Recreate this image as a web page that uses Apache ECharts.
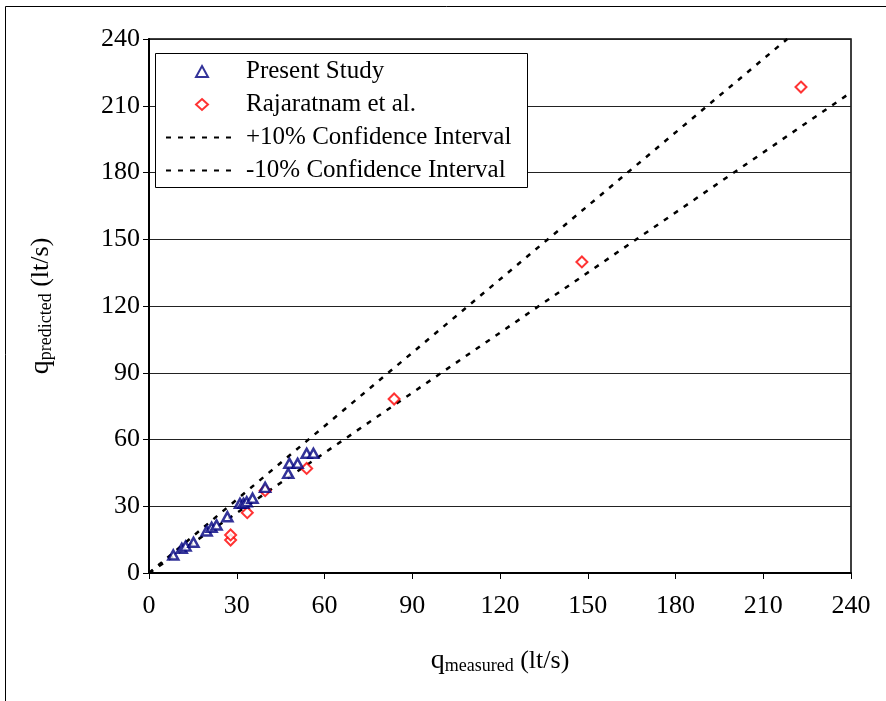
<!DOCTYPE html>
<html>
<head>
<meta charset="utf-8">
<script src="https://cdn.jsdelivr.net/npm/echarts@6/dist/echarts.min.js"></script>
<style>
  html, body { margin: 0; padding: 0; background: #fff; }
  #chart { width: 886px; height: 701px; }
</style>
</head>
<body>
<div id="chart"></div>
<script>
// measured vs predicted discharge (lt/s)
const presentMeasured  = [8.3, 11.2, 12.5, 15.2, 19.7, 21.4, 23.1, 26.8, 31.1, 32.3, 33.4, 35.4, 39.7, 47.6, 48.0, 50.8, 53.9, 56.2]
const presentPredicted = [8.1, 11.1, 12.1, 13.8, 18.9, 20.5, 21.6, 25.3, 31.3, 31.3, 32.0, 33.6, 38.5, 44.8, 49.3, 49.3, 53.8, 53.8]
const rajMeasured  = [27.9, 27.9, 33.6, 39.7, 53.9, 83.8, 148.0, 222.9]
const rajPredicted = [14.8, 17.1, 27.1, 37.0, 47.0, 78.2, 139.8, 218.4]
// +/-10% bands
const upperX = [0, 218.2]
const upperY = [0, 240]
const lowerX = [0, 240]
const lowerY = [0, 216]
const ticks = [0, 30, 60, 90, 120, 150, 180, 210, 240]

function pairs(xs, ys) {
  return xs.map((x, i) => [x, ys[i]])
}

const serif = 'Liberation Serif, Times New Roman, serif'
let myChart = echarts.init(document.getElementById('chart'))

let axisCommon = {
  type: 'value',
  min: ticks[0],
  max: ticks[ticks.length - 1],
  interval: 30,
  axisLine: { show: true, onZero: false, lineStyle: { color: '#000', width: 2 } },
  axisTick: { show: true, inside: false, length: 6, lineStyle: { color: '#000' } },
  axisLabel: { color: '#000', fontSize: 26, fontFamily: serif },
  nameLocation: 'middle',
  nameTextStyle: {
    color: '#000', fontFamily: serif,
    rich: {
      q: { fontSize: 28, fontFamily: serif, color: '#000' },
      sub: { fontSize: 18, fontFamily: serif, color: '#000', padding: [10, 0, 0, 0] },
      u: { fontSize: 26, fontFamily: serif, color: '#000' }
    }
  }
}

let legendText = { color: '#000', fontSize: 25, fontFamily: serif, lineHeight: 25 }

let option = {
  animation: false,
  backgroundColor: '#fff',
  grid: {
    left: 149, right: 35, top: 39, bottom: 128,
    show: true, borderColor: '#000', borderWidth: 1.5
  },
  graphic: [
    {
      type: 'rect', z: 0, silent: true,
      shape: { x: 5.5, y: 6.5, width: 900, height: 800 },
      style: { fill: null, stroke: '#000', lineWidth: 1 }
    },
    {
      type: 'rect', z: 5, silent: true,
      shape: { x: 155.5, y: 53.5, width: 372, height: 134 },
      style: { fill: '#fff', stroke: '#000', lineWidth: 1 }
    }
  ],
  legend: [
    {
      z: 10,
      orient: 'vertical',
      left: 195,
      top: 59,
      padding: 0,
      itemGap: 8,
      itemWidth: 12,
      itemHeight: 11,
      textStyle: Object.assign({}, legendText, { padding: [0, 0, 0, 33] }),
      data: ['Present Study', 'Rajaratnam et al.']
    },
    {
      z: 10,
      orient: 'vertical',
      left: 165,
      top: 125,
      padding: 0,
      itemGap: 8,
      itemWidth: 67,
      itemHeight: 11,
      textStyle: Object.assign({}, legendText, { padding: [0, 0, 0, 8] }),
      data: [
        { name: '+10% Confidence Interval', itemStyle: { opacity: 0 } },
        { name: '-10% Confidence Interval', itemStyle: { opacity: 0 } }
      ]
    }
  ],
  xAxis: Object.assign({}, axisCommon, {
    name: '{q|q}{sub|measured}{u| (lt/s)}',
    nameGap: 74,
    axisLabel: Object.assign({}, axisCommon.axisLabel, { margin: 20 }),
    splitLine: { show: false }
  }),
  yAxis: Object.assign({}, axisCommon, {
    name: '{q|q}{sub|predicted}{u| (lt/s)}',
    nameGap: 94,
    axisLabel: Object.assign({}, axisCommon.axisLabel, { margin: 9 }),
    splitLine: { show: true, lineStyle: { color: '#222', width: 1 } }
  }),
  series: [
    {
      type: 'scatter',
      name: 'Present Study',
      symbol: 'triangle',
      symbolSize: [10, 9],
      data: pairs(presentMeasured, presentPredicted),
      itemStyle: { color: '#fff', borderColor: '#000080', borderWidth: 2.5 },
      z: 4
    },
    {
      type: 'scatter',
      name: 'Rajaratnam et al.',
      symbol: 'diamond',
      symbolSize: 11,
      data: pairs(rajMeasured, rajPredicted),
      itemStyle: { color: '#fff', borderColor: '#ff0000', borderWidth: 2 },
      z: 3
    },
    {
      type: 'line',
      name: '+10% Confidence Interval',
      showSymbol: false,
      symbol: 'none',
      data: pairs(upperX, upperY),
      lineStyle: { color: '#000', width: 2.5, type: [5, 7] },
      itemStyle: { color: '#000' },
      z: 2
    },
    {
      type: 'line',
      name: '-10% Confidence Interval',
      showSymbol: false,
      symbol: 'none',
      data: pairs(lowerX, lowerY),
      lineStyle: { color: '#000', width: 2.5, type: [5, 7] },
      itemStyle: { color: '#000' },
      z: 2
    }
  ]
}
myChart.setOption(option)
</script>
</body>
</html>
